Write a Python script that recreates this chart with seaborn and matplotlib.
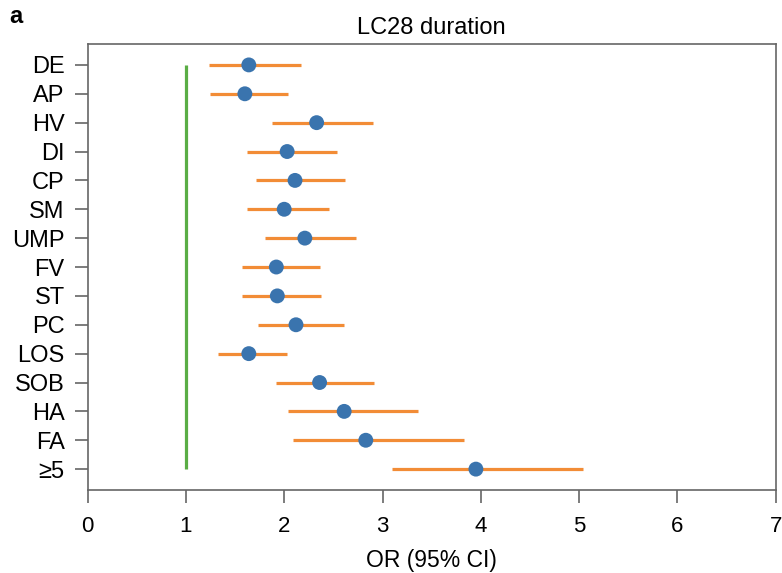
import numpy as np
import pandas as pd
import matplotlib
matplotlib.use("Agg")
import matplotlib.pyplot as plt
import seaborn as sns

# Data
labels = ["DE", "AP", "HV", "DI", "CP", "SM", "UMP", "FV", "ST", "PC",
          "LOS", "SOB", "HA", "FA", "≥5"]
odds_ratio = [1.64, 1.60, 2.33, 2.03, 2.11, 2.00, 2.21, 1.92, 1.93, 2.12,
              1.64, 2.36, 2.61, 2.83, 3.95]
ci_low = [1.24, 1.25, 1.88, 1.62, 1.71, 1.62, 1.80, 1.57, 1.57, 1.73,
          1.33, 1.92, 2.04, 2.09, 3.10]
ci_high = [2.17, 2.04, 2.90, 2.54, 2.62, 2.46, 2.73, 2.36, 2.37, 2.61,
           2.03, 2.91, 3.36, 3.83, 5.04]
ref_value = 1

df = pd.DataFrame({"label": labels, "OR": odds_ratio,
                   "lo": ci_low, "hi": ci_high})
df["pos"] = np.arange(len(df))

sns.set_style("white")
plt.rcParams["font.family"] = ["Liberation Sans", "DejaVu Sans"]
plt.rcParams["text.color"] = "black"
plt.rcParams["axes.labelcolor"] = "black"

ORANGE = "#f28c36"
BLUE = "#3a74ae"
GREEN = "#5aad45"
GREY = "#666666"

fig = plt.figure(figsize=(7.82, 5.73), dpi=100)
ax = fig.add_axes([0.112, 0.145, 0.880, 0.778])

# reference line at OR = 1
ax.vlines(ref_value, df["pos"].min(), df["pos"].max(), color=GREEN, lw=2.3, zorder=1)

# confidence intervals
ax.hlines(df["pos"], df["lo"], df["hi"], color=ORANGE, lw=2.3, zorder=2)

# point estimates
sns.scatterplot(data=df, x="OR", y="pos", s=115, color=BLUE,
                edgecolor="none", ax=ax, zorder=3)

ax.set_xlim(0, 7)
ax.set_ylim(14.72, -0.72)
ax.set_xticks(range(0, 8))
ax.set_yticks(df["pos"])
ax.set_yticklabels(df["label"])
ax.set_xlabel("OR (95% CI)", fontsize=16.5, labelpad=9)
ax.set_ylabel("")
ax.set_title("LC28 duration", fontsize=17, pad=7)

for sp in ax.spines.values():
    sp.set_visible(True)
    sp.set_color(GREY)
    sp.set_linewidth(1.2)

ax.tick_params(axis="both", direction="out", length=9.5, width=1.2,
               color=GREY, labelcolor="black", bottom=True, left=True)
ax.tick_params(axis="y", pad=7, labelsize=17)
ax.tick_params(axis="x", pad=9, labelsize=16)

fig.text(0.012, 0.992, "a", fontsize=17, fontweight="bold", va="top", ha="left")

fig.savefig("out.png", dpi=100)
